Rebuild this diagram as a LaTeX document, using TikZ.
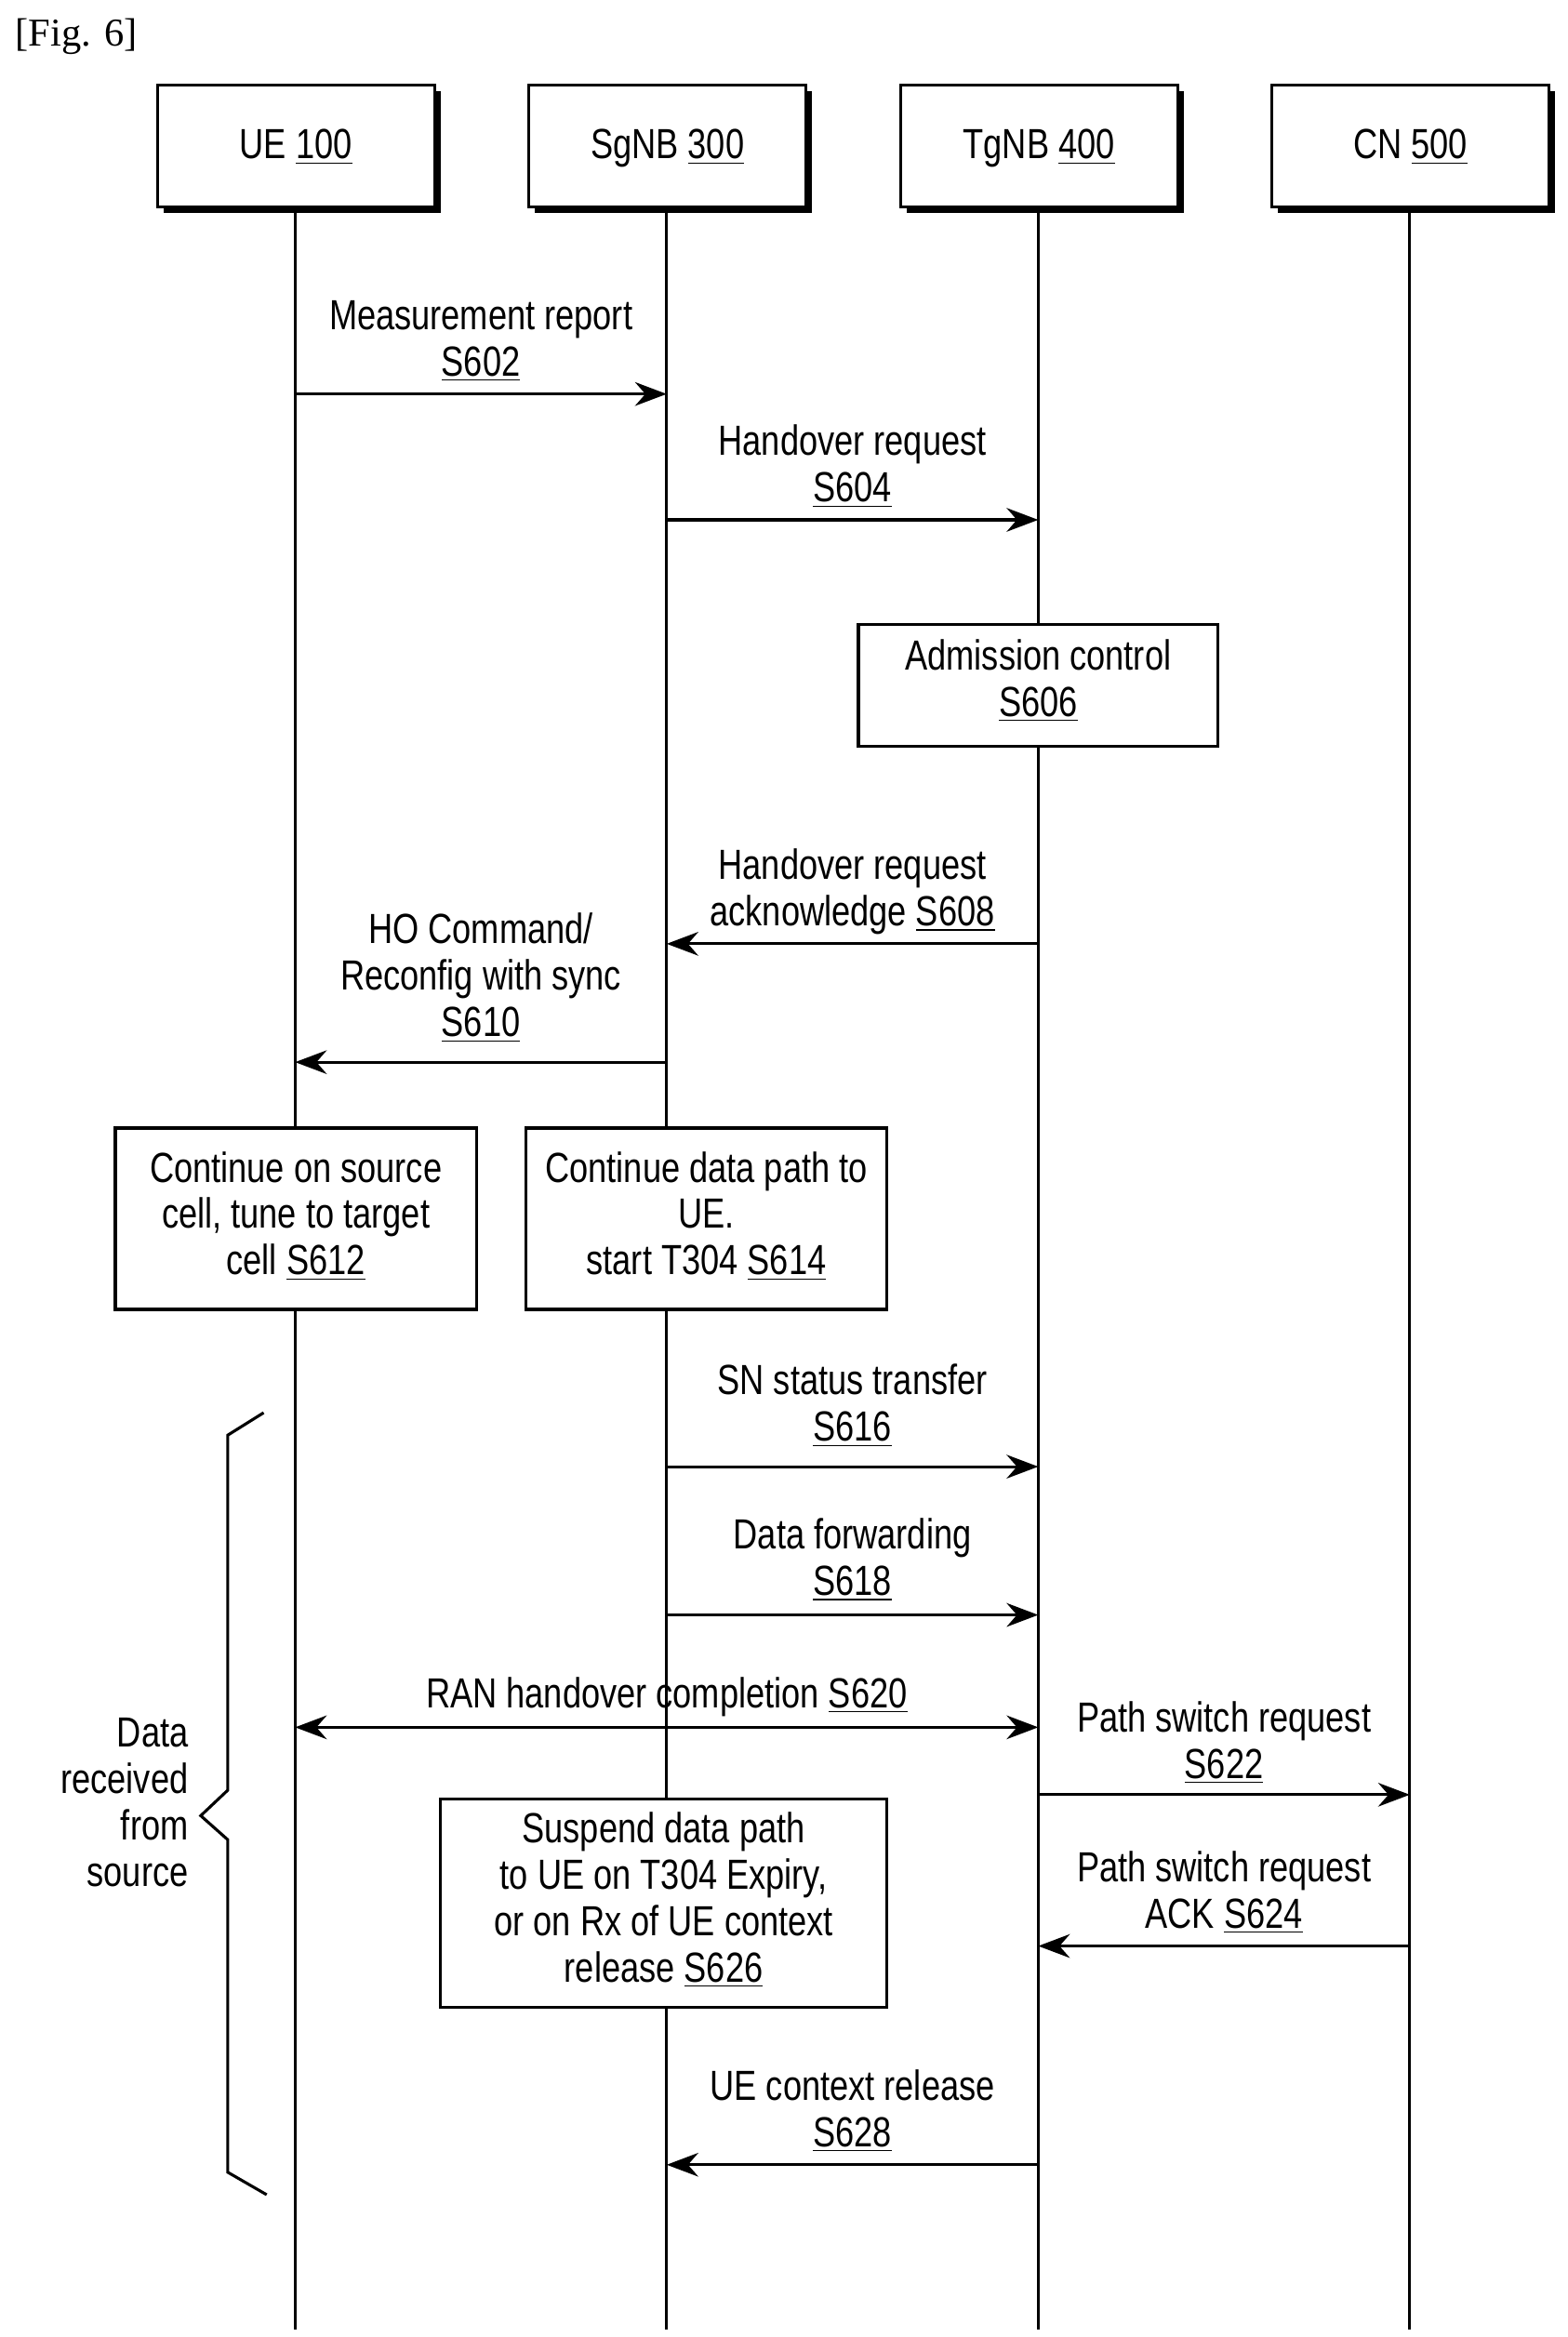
\documentclass[tikz,border=0pt]{standalone}
\usepackage{fontspec}
\setmainfont{Liberation Sans}[FakeStretch=0.8]
\newfontfamily\figfont{Liberation Serif}
\usetikzlibrary{arrows.meta}
\begin{document}
\begin{tikzpicture}[x=0.02cm,y=-0.02cm,
  txt/.style={font=\fontsize{16}{19}\selectfont, inner sep=0pt, anchor=base},
  msg/.style={line width=1.1pt,-{Stealth[length=12pt,width=9pt]}},
  box/.style={draw,line width=1.1pt,fill=white},
  life/.style={line width=1.1pt}]
\useasboundingbox (0,0) rectangle (1046,1560);
\node[anchor=base west,inner sep=0pt,font=\figfont\fontsize{15}{18}\selectfont] (fig) at (10,31) {[Fig. 6]};
% lifelines
\foreach \n/\x in {ue/197,sg/445,tg/693,cn/941}{
  \coordinate (\n top) at (\x,138);
  \coordinate (\n bot) at (\x,1555);
  \draw[life] (\n top) -- (\n bot);
}
% headers
\foreach \n/\x/\t in {hue/105/{UE \underline{100}},hsg/353/{SgNB \underline{300}},htg/601/{TgNB \underline{400}},hcn/849/{CN \underline{500}}}{
  \fill (\x+4,61) rectangle (\x+189,142);
  \draw[box] (\x,57) rectangle (\x+185,138);
  \node[txt] (\n) at (\x+92.5,106) {\t};
}
% helper coordinates
\foreach \n/\x in {ue/197,sg/445,tg/693,cn/941}{
  \foreach \y in {263,347,630,709,979,1078,1153,1198,1299,1445}{
    \coordinate (\n\y) at (\x,\y);
  }
}
% S602
\node[txt] (l602a) at (321,220) {Measurement report};
\node[txt] (l602b) at (321,251) {\underline{S602}};
\draw[msg] (ue263) -- (sg263);
% S604
\node[txt] (l604a) at (569,304) {Handover request};
\node[txt] (l604b) at (569,335) {\underline{S604}};
\draw[msg] (sg347) -- (tg347);
% S606
\draw[box] (573,417) rectangle (813,498);
\node[txt] (l606a) at (693,447) {Admission control};
\node[txt] (l606b) at (693,478) {\underline{S606}};
% S608
\node[txt] (l608a) at (569,587) {Handover request};
\node[txt] (l608b) at (569,618) {acknowledge \underline{S608}};
\draw[msg] (tg630) -- (sg630);
% S610
\node[txt] (l610a) at (321,630) {HO Command/};
\node[txt] (l610b) at (321,661) {Reconfig with sync};
\node[txt] (l610c) at (321,692) {\underline{S610}};
\draw[msg] (sg709) -- (ue709);
% S612, S614
\draw[box] (77,753) rectangle (318,874);
\node[txt] (l612a) at (197.5,789) {Continue on source};
\node[txt] (l612b) at (197.5,820) {cell, tune to target};
\node[txt] (l612c) at (197.5,851) {cell \underline{S612}};
\draw[box] (351,753) rectangle (592,874);
\node[txt] (l614a) at (471.5,789) {Continue data path to};
\node[txt] (l614b) at (471.5,820) {UE.};
\node[txt] (l614c) at (471.5,851) {start T304 \underline{S614}};
% S616
\node[txt] (l616a) at (569,931) {SN status transfer};
\node[txt] (l616b) at (569,962) {\underline{S616}};
\draw[msg] (sg979) -- (tg979);
% S618
\node[txt] (l618a) at (569,1034) {Data forwarding};
\node[txt] (l618b) at (569,1065) {\underline{S618}};
\draw[msg] (sg1078) -- (tg1078);
% S620
\node[txt] (l620) at (445,1140) {RAN handover completion \underline{S620}};
\draw[line width=1.1pt,{Stealth[length=12pt,width=9pt]}-{Stealth[length=12pt,width=9pt]}] (ue1153) -- (tg1153);
% S622
\node[txt] (l622a) at (817,1156) {Path switch request};
\node[txt] (l622b) at (817,1187) {\underline{S622}};
\draw[msg] (tg1198) -- (cn1198);
% S626
\draw[box] (294,1201) rectangle (592,1340);
\node[txt] (l626a) at (443,1230) {Suspend data path};
\node[txt] (l626b) at (443,1261) {to UE on T304 Expiry,};
\node[txt] (l626c) at (443,1292) {or on Rx of UE context};
\node[txt] (l626d) at (443,1323) {release \underline{S626}};
% S624
\node[txt] (l624a) at (817,1256) {Path switch request};
\node[txt] (l624b) at (817,1287) {ACK \underline{S624}};
\draw[msg] (cn1299) -- (tg1299);
% S628
\node[txt] (l628a) at (569,1402) {UE context release};
\node[txt] (l628b) at (569,1433) {\underline{S628}};
\draw[msg] (tg1445) -- (sg1445);
% brace
\draw[line width=1.1pt] (176,943) -- (152,958) -- (152,1195) -- (134,1212) -- (152,1228) -- (152,1450) -- (178,1465);
\node[txt,anchor=base east] (d1) at (126,1166) {Data};
\node[txt,anchor=base east] (d2) at (126,1197) {received};
\node[txt,anchor=base east] (d3) at (126,1228) {from};
\node[txt,anchor=base east] (d4) at (126,1259) {source};
\end{tikzpicture}
\end{document}
